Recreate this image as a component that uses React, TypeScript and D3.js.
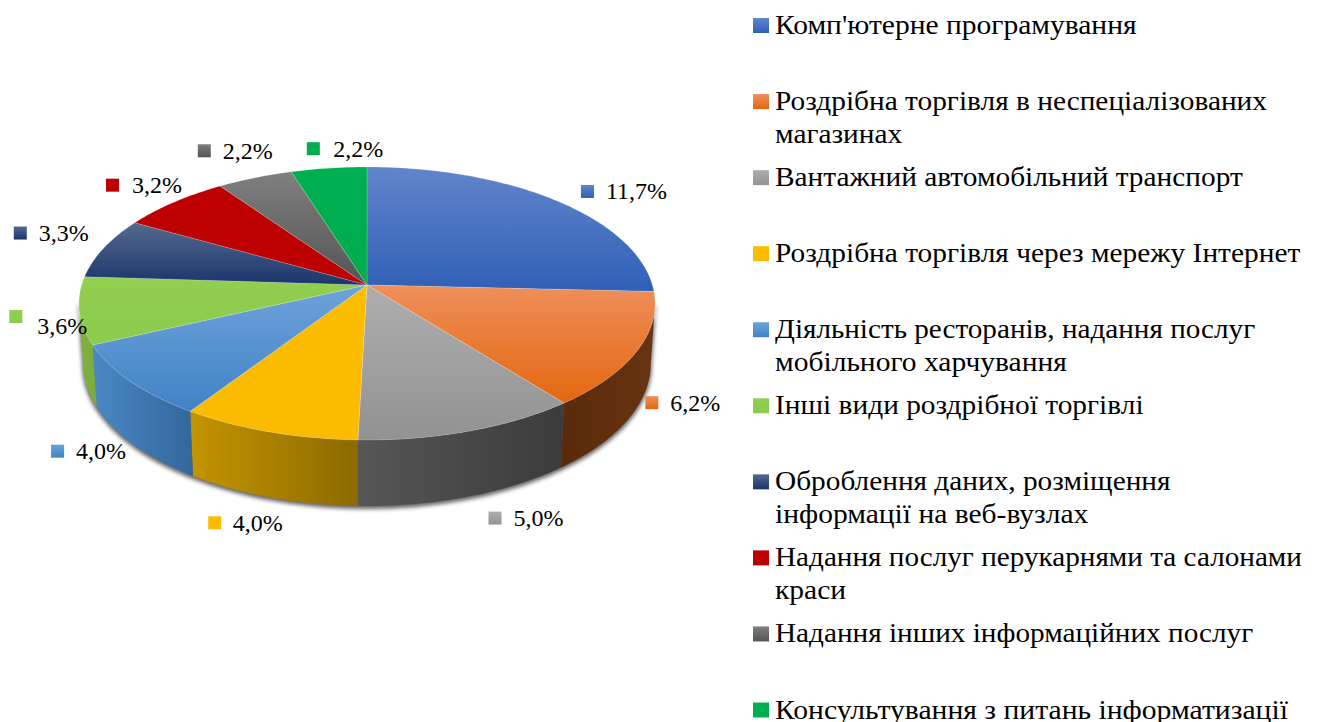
import React from "react";
import * as d3 from "d3";

const categories = [
  ["Комп'ютерне програмування"],
  ["Роздрібна торгівля в неспеціалізованих", "магазинах"],
  ["Вантажний автомобільний транспорт"],
  ["Роздрібна торгівля через мережу Інтернет"],
  ["Діяльність ресторанів, надання послуг", "мобільного харчування"],
  ["Інші види роздрібної торгівлі"],
  ["Оброблення даних, розміщення", "інформації на веб-вузлах"],
  ["Надання послуг перукарнями та салонами", "краси"],
  ["Надання інших інформаційних послуг"],
  ["Консультування з питань інформатизації"],
];
const values = [11.7, 6.2, 5.0, 4.0, 4.0, 3.6, 3.3, 3.2, 2.2, 2.2];

// top face gradient [upper, lower]
const topColors = [
  ["#6284cb", "#2f60b6"],
  ["#ee8f5a", "#e4670f"],
  ["#aeaeae", "#929292"],
  ["#fbbd00", "#fbbb00"],
  ["#6fa2da", "#3f83c6"],
  ["#92ce50", "#8ccb4c"],
  ["#55698f", "#1b356c"],
  ["#c00000", "#bb0000"],
  ["#7f7f7f", "#545454"],
  ["#00af50", "#00ad4e"],
];
// side wall gradient [left, right]
const wallColors = [
  ["#5a2a0a", "#683411"],
  ["#5a2a0a", "#683411"],
  ["#565656", "#3b3b3b"],
  ["#c49400", "#8c6a00"],
  ["#4a88c4", "#33689b"],
  ["#80b342", "#7aad3e"],
  ["#1b356c", "#1b356c"],
  ["#900000", "#900000"],
  ["#444444", "#444444"],
  ["#008a3e", "#008a3e"],
];
// marker position relative to the rim point at the slice's mid angle
const labelNudge = [
  [25, -9], [8, 52], [19, 87], [-60.5, 91], [-79, 70],
  [-70, 6], [-90, -15], [-68, -17], [-57, -27], [-22, -19.5],
];
// gap between marker and percent text
const labelGap = [25, 25, 25, 24.5, 25, 28, 25, 26, 25, 26.5];
// horizontal stretch of every legend line
const legendLineScales = [
  [1.055], [1.0486, 1.05], [1.0483], [1.049], [1.042, 1.055],
  [1.049], [1.047, 1.055], [1.043, 1.055], [1.044], [1.059],
];

const width = 1317;
const height = 722;
const serif = "'Liberation Serif', 'Times New Roman', serif";

// perspective view of the pie's disc
const cx = 367;
const cy = 285;
const radiusX = 285.4;
const radiusY = 134;
const tilt = -0.1355;
const wallScale = 0.985;

const project = (angle: number): [number, number] => {
  const u = Math.sin(angle);
  const v = -Math.cos(angle);
  const w = 1 + tilt * v;
  return [cx + (radiusX * u) / w, cy + (radiusY * v) / w];
};
const projectBottom = (angle: number): [number, number] => {
  const [x, y] = project(angle);
  return [cx + (x - cx) * wallScale, y + 62 + (y - 345) * 0.042];
};

// angles where the rim turns from the visible wall to the hidden one
const wallStart = Math.acos(tilt);
const wallEnd = 2 * Math.PI - wallStart;

const arcAngles = (a0: number, a1: number) => {
  const n = Math.max(2, Math.ceil((a1 - a0) / 0.02));
  return d3.range(n + 1).map((i) => a0 + ((a1 - a0) * i) / n);
};

const line = d3.line<[number, number]>();
const slices = d3
  .pie<number>()
  .sort(null)
  .startAngle(0)
  .endAngle(2 * Math.PI)(values);

const wallPath = (a0: number, a1: number) => {
  const angles = arcAngles(a0, a1);
  return (
    line([...angles.map(project), ...angles.slice().reverse().map(projectBottom)]) + "Z"
  );
};

const legendY = d3
  .scalePoint<number>()
  .domain(d3.range(values.length))
  .range([25.5, 710]);

export default function App() {
  const walls = slices
    .map((s, i) => ({
      i,
      a0: Math.max(s.startAngle, wallStart),
      a1: Math.min(s.endAngle, wallEnd),
    }))
    .filter((d) => d.a1 > d.a0);

  return (
    <svg
      width={width}
      height={height}
      style={{ position: "absolute", left: 0, top: 0, background: "#fff" }}
      fontFamily={serif}
    >
      <defs>
        <filter id="wallShadow" x="-10%" y="-10%" width="120%" height="120%">
          <feGaussianBlur stdDeviation="2" />
        </filter>
        {slices.map((s, i) => {
          const pts = arcAngles(s.startAngle, s.endAngle).map(project);
          const ys = [cy, ...pts.map((p) => p[1])];
          return (
            <linearGradient
              key={i}
              id={`top${i}`}
              gradientUnits="userSpaceOnUse"
              x1={0}
              x2={0}
              y1={d3.min(ys)}
              y2={d3.max(ys)}
            >
              <stop offset="0%" stopColor={topColors[i][0]} />
              <stop offset="100%" stopColor={topColors[i][1]} />
            </linearGradient>
          );
        })}
        {walls.map((d) => {
          const pts = arcAngles(d.a0, d.a1).map(project);
          const xs = pts.map((p) => p[0]);
          return (
            <linearGradient
              key={d.i}
              id={`wall${d.i}`}
              gradientUnits="userSpaceOnUse"
              x1={d3.min(xs)}
              x2={d3.max(xs)}
              y1={0}
              y2={0}
            >
              <stop offset="0%" stopColor={wallColors[d.i][0]} />
              <stop offset="100%" stopColor={wallColors[d.i][1]} />
            </linearGradient>
          );
        })}
        {topColors.map((c, i) => (
          <linearGradient key={i} id={`key${i}`} x1="0" x2="0" y1="0" y2="1">
            <stop offset="0%" stopColor={c[0]} />
            <stop offset="100%" stopColor={c[1]} />
          </linearGradient>
        ))}
      </defs>

      {/* soft shadow round the wall */}
      <path
        d={wallPath(wallStart, wallEnd)}
        transform="translate(0,2)"
        fill="#000"
        fillOpacity={0.6}
        stroke="#000"
        strokeOpacity={0.6}
        strokeWidth={1.5}
        filter="url(#wallShadow)"
      />

      {walls.map((d) => (
        <path key={d.i} d={wallPath(d.a0, d.a1)} fill={`url(#wall${d.i})`} />
      ))}

      {slices.map((s, i) => {
        const rim = arcAngles(s.startAngle, s.endAngle).map(project);
        return (
          <path
            key={i}
            d={line([[cx, cy], ...rim]) + "Z"}
            fill={`url(#top${i})`}
            stroke="#fff"
            strokeOpacity={0.22}
            strokeWidth={0.8}
          />
        );
      })}

      {slices.map((s, i) => {
        const [x, y] = project((s.startAngle + s.endAngle) / 2);
        const mx = x + labelNudge[i][0];
        const my = y + labelNudge[i][1];
        // the 3,6% text sits lower than its key
        const textDy = i === 5 ? 9 : 0;
        return (
          <g key={i}>
            <rect x={mx} y={my - 6.5} width={13} height={13} fill={`url(#key${i})`} />
            <text x={mx + labelGap[i]} y={my + 8 + textDy} fontSize={24} fill="#000">
              {values[i].toFixed(1).replace(".", ",")}%
            </text>
          </g>
        );
      })}

      {categories.map((lines, i) => {
        const y = legendY(i) as number;
        return (
          <g key={i}>
            <rect x={753} y={y - 7.5} width={16} height={15} fill={`url(#key${i})`} />
            {lines.map((t, j) => (
              <text
                key={j}
                transform={`translate(775,${y + 8.5 + j * 32.5}) scale(${legendLineScales[i][j]},1)`}
                fontSize={28}
                fill="#000"
              >
                {t}
              </text>
            ))}
          </g>
        );
      })}
    </svg>
  );
}
